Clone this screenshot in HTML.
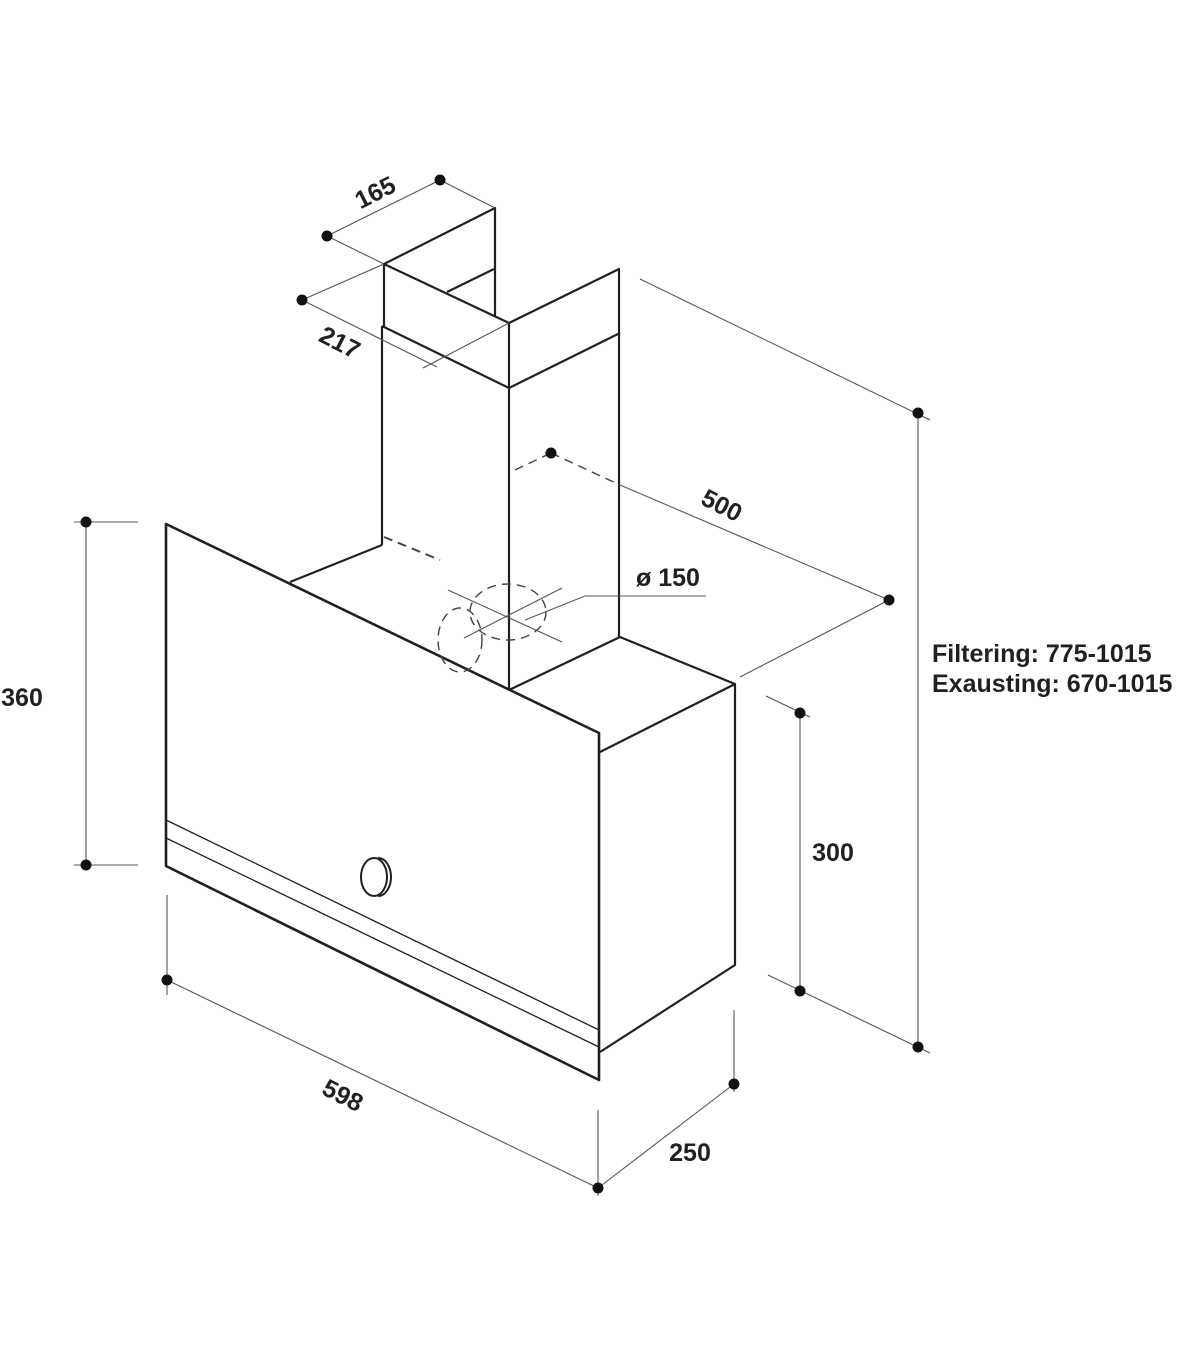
<!DOCTYPE html>
<html><head><style>
html,body{margin:0;padding:0;background:#fff;}
svg{display:block;}
text{font-family:"Liberation Sans",Arial,sans-serif;font-weight:bold;fill:#231f20;}
</style></head><body>
<svg width="1200" height="1372" viewBox="0 0 1200 1372" xmlns="http://www.w3.org/2000/svg">
<g fill="none" stroke="#231f20" stroke-width="2.2" stroke-linejoin="round">
<polyline points="384,328 384,264 495,208 495,317"/>
<line x1="384" y1="264" x2="509" y2="323"/>
<polyline points="509,323 619,269 619,637"/>
<line x1="447" y1="292" x2="494" y2="269"/>
<line x1="382" y1="326" x2="509" y2="388"/>
<line x1="509" y1="388" x2="620" y2="333"/>
<line x1="509" y1="323" x2="509" y2="690"/>
<line x1="382" y1="326" x2="382" y2="545"/>
<line x1="382" y1="545" x2="290" y2="582"/>
<polyline points="509,690 620,637 735,684 735,965 600,1052"/>
<line x1="600" y1="752" x2="735" y2="684"/>
<polygon points="166,524 599,733 599,1080 166,866" stroke-width="2.6"/>
</g>
<g fill="none" stroke="#231f20" stroke-width="1.3">
<line x1="166" y1="820" x2="599" y2="1030"/>
<line x1="166" y1="838" x2="599" y2="1047"/>
<ellipse cx="374" cy="877" rx="13" ry="19" stroke-width="2"/>
<path d="M378,858 A13,19 0 0 1 378,896" stroke-width="2"/>
</g>
<g fill="none" stroke="#444" stroke-width="1.4" stroke-dasharray="9,6">
<line x1="384" y1="537" x2="440" y2="560" stroke-width="2"/>
<ellipse cx="508" cy="612" rx="38" ry="28"/>
<ellipse cx="460" cy="640" rx="22" ry="32"/>
<line x1="515" y1="470" x2="551" y2="453"/>
<line x1="551" y1="453" x2="620" y2="485"/>
</g>
<g fill="none" stroke="#555" stroke-width="1.1">
<line x1="448" y1="590" x2="562" y2="642"/>
<line x1="464" y1="638" x2="562" y2="588"/>
<polyline points="525,620 585,596 706,596"/>
<line x1="327" y1="236" x2="440" y2="180"/>
<line x1="327" y1="236" x2="384" y2="264"/>
<line x1="440" y1="180" x2="495" y2="208"/>
<line x1="302" y1="300" x2="437" y2="367"/>
<line x1="302" y1="300" x2="384" y2="264"/>
<line x1="423" y1="368" x2="509" y2="323"/>
<line x1="620" y1="485" x2="889" y2="600"/>
<line x1="889" y1="600" x2="740" y2="677"/>
<line x1="918" y1="413" x2="918" y2="1047"/>
<line x1="640" y1="279" x2="930" y2="420"/>
<line x1="768" y1="975" x2="930" y2="1053"/>
<line x1="800" y1="713" x2="800" y2="991"/>
<line x1="766" y1="696" x2="810" y2="717"/>
<line x1="86" y1="522" x2="86" y2="865"/>
<line x1="74" y1="522" x2="138" y2="522"/>
<line x1="74" y1="865" x2="138" y2="865"/>
<line x1="167" y1="895" x2="167" y2="995"/>
<line x1="598" y1="1110" x2="598" y2="1196"/>
<line x1="734" y1="1010" x2="734" y2="1092"/>
<line x1="167" y1="980" x2="598" y2="1188"/>
<line x1="598" y1="1188" x2="734" y2="1084"/>
</g>
<g fill="#111">
<circle cx="327" cy="236" r="5.5"/><circle cx="440" cy="180" r="5.5"/>
<circle cx="302" cy="300" r="5.5"/><circle cx="551" cy="453" r="5.5"/>
<circle cx="889" cy="600" r="5.5"/><circle cx="918" cy="413" r="5.5"/>
<circle cx="918" cy="1047" r="5.5"/><circle cx="800" cy="713" r="5.5"/>
<circle cx="800" cy="991" r="5.5"/><circle cx="86" cy="522" r="5.5"/>
<circle cx="86" cy="865" r="5.5"/><circle cx="167" cy="980" r="5.5"/>
<circle cx="598" cy="1188" r="5.5"/><circle cx="734" cy="1084" r="5.5"/>
</g>
<g font-size="25">
<text x="375" y="201" text-anchor="middle" transform="rotate(-27 375 192)">165</text>
<text x="340" y="351" text-anchor="middle" transform="rotate(27 340 342)">217</text>
<text x="722" y="514" text-anchor="middle" transform="rotate(27 722 505)">500</text>
<text x="343" y="1104" text-anchor="middle" transform="rotate(27 343 1095)">598</text>
<text x="690" y="1161" text-anchor="middle">250</text>
<text x="833" y="861" text-anchor="middle">300</text>
<text x="22" y="706" text-anchor="middle">360</text>
<text x="636" y="586">ø 150</text>
<text x="932" y="662">Filtering: 775-1015</text>
<text x="932" y="692">Exausting: 670-1015</text>
</g>
</svg>
</body></html>
